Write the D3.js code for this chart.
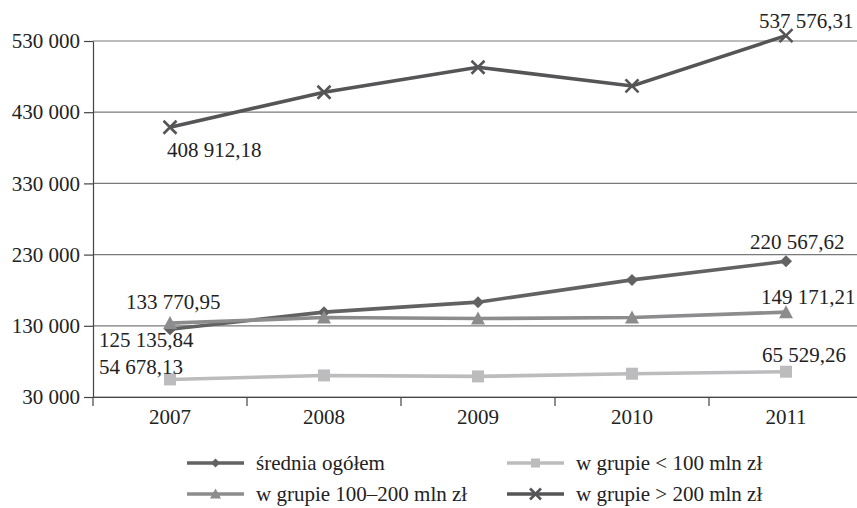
<!DOCTYPE html>
<html>
<head>
<meta charset="utf-8">
<script src="https://cdn.jsdelivr.net/npm/d3@7/dist/d3.min.js"></script>
<style>
  html, body { margin: 0; padding: 0; background: #fff; }
  svg { display: block; font-family: "Liberation Serif", "Times New Roman", "DejaVu Serif", serif; }
</style>
</head>
<body>
<svg id="chart" width="857" height="508"></svg>
<script>
// Chart data
const years = ['2007', '2008', '2009', '2010', '2011'];
const sredniaOgolem = [125135.84, 149200, 163200, 194500, 220567.62];
const grupaPonizej100 = [54678.13, 60300, 58900, 62700, 65529.26];
const grupa100do200 = [133770.95, 141600, 140200, 141600, 149171.21];
const grupaPowyzej200 = [408912.18, 458000, 493100, 466900, 537576.31];
const yTicks = [30000, 130000, 230000, 330000, 430000, 530000];

const FONT = '"Liberation Serif", "Times New Roman", "DejaVu Serif", serif';

// Series styling
const series = [
    { name: 'średnia ogółem', values: sredniaOgolem, color: '#626262', marker: 'diamond',
      labels: { first: [-71, 18], last: [-36, -12] } },
    { name: 'w grupie < 100 mln zł', values: grupaPonizej100, color: '#bcbcbe', marker: 'square',
      labels: { first: [-71, -5], last: [-24, -10] } },
    { name: 'w grupie 100–200 mln zł', values: grupa100do200, color: '#8c8c8e', marker: 'triangle',
      labels: { first: [-44, -14], last: [-25, -8] } },
    { name: 'w grupie > 200 mln zł', values: grupaPowyzej200, color: '#555557', marker: 'cross',
      labels: { first: [-3, 30], last: [-27, -8] } }
];

const fmt = v => {
    const s = v.toFixed(2).replace('.', ',');
    const [int, dec] = s.split(',');
    return int.replace(/\B(?=(\d{3})+(?!\d))/g, ' ') + ',' + dec;
};
const fmtTick = v => String(v).replace(/\B(?=(\d{3})+(?!\d))/g, ' ');

const svg = d3.select('#chart');
const plot = { left: 93, right: 863, top: 41, bottom: 397 };

const x = d3.scaleBand().domain(years).range([plot.left, plot.right]);
const y = d3.scaleLinear().domain([30000, 530000]).range([plot.bottom, plot.top]);
const cx = d => x(d) + x.bandwidth() / 2;

// Gridlines
svg.append('g')
    .selectAll('line')
    .data(yTicks)
    .join('line')
    .attr('x1', plot.left).attr('x2', plot.right)
    .attr('y1', d => y(d)).attr('y2', d => y(d))
    .attr('stroke', '#7a7a7a')
    .attr('stroke-width', 1.2);

// Y axis
const yAxis = svg.append('g')
    .attr('transform', `translate(${plot.left},0)`)
    .call(d3.axisLeft(y).tickValues(yTicks).tickSize(9).tickSizeOuter(0).tickFormat(fmtTick));
yAxis.attr('font-family', null);
yAxis.select('.domain').attr('stroke', '#444').attr('stroke-width', 1.2);
yAxis.selectAll('.tick line').attr('stroke', '#444').attr('stroke-width', 1.2);
yAxis.selectAll('text')
    .attr('x', -13)
    .attr('fill', '#222')
    .style('font-size', '21px')
    .style('font-family', FONT);

// X axis
const xAxis = svg.append('g')
    .attr('transform', `translate(0,${plot.bottom})`)
    .call(d3.axisBottom(x).tickSize(0).tickSizeOuter(0));
xAxis.attr('font-family', null);
xAxis.select('.domain').attr('stroke', '#444').attr('stroke-width', 1.2);
xAxis.selectAll('text')
    .attr('y', 12)
    .attr('fill', '#222')
    .style('font-size', '21px')
    .style('font-family', FONT);
// boundary ticks between categories
svg.append('g')
    .selectAll('line')
    .data(years)
    .join('line')
    .attr('x1', d => x(d)).attr('x2', d => x(d))
    .attr('y1', plot.bottom).attr('y2', plot.bottom + 9)
    .attr('stroke', '#444')
    .attr('stroke-width', 1.2);

// Marker drawing helper
function drawMarker(g, type, color, px, py, size) {
    const h = size / 2;
    if (type === 'diamond') {
        g.append('path')
            .attr('d', `M${px},${py - h}L${px + h},${py}L${px},${py + h}L${px - h},${py}Z`)
            .attr('fill', color);
    } else if (type === 'square') {
        g.append('rect')
            .attr('x', px - h).attr('y', py - h)
            .attr('width', size).attr('height', size)
            .attr('fill', color);
    } else if (type === 'triangle') {
        g.append('path')
            .attr('d', `M${px},${py - h - 1}L${px + h + 1},${py + h}L${px - h - 1},${py + h}Z`)
            .attr('fill', color);
    } else if (type === 'cross') {
        g.append('path')
            .attr('d', `M${px - h},${py - h}L${px + h},${py + h}M${px - h},${py + h}L${px + h},${py - h}`)
            .attr('stroke', color)
            .attr('stroke-width', 2.6)
            .attr('fill', 'none');
    }
}

const line = d3.line()
    .x((d, i) => cx(years[i]))
    .y(d => y(d));

// Series lines and markers
series.forEach(s => {
    const g = svg.append('g');
    g.append('path')
        .datum(s.values)
        .attr('d', line)
        .attr('fill', 'none')
        .attr('stroke', s.color)
        .attr('stroke-width', 3.6);
    s.values.forEach((v, i) => {
        drawMarker(g, s.marker, s.color, cx(years[i]), y(v), s.marker === 'cross' ? 13 : 12);
    });
});

// Data labels (first and last values)
series.forEach(s => {
    const last = s.values.length - 1;
    [['first', 0], ['last', last]].forEach(([key, i]) => {
        const [dx, dy] = s.labels[key];
        svg.append('text')
            .attr('x', cx(years[i]) + dx)
            .attr('y', y(s.values[i]) + dy)
            .attr('fill', '#222')
            .style('font-size', '21px')
            .style('font-family', FONT)
            .text(fmt(s.values[i]));
    });
});

// Legend
const legendPos = [
    { col: 187, row: 463 },
    { col: 507, row: 463 },
    { col: 187, row: 494 },
    { col: 507, row: 494 }
];
series.forEach((s, i) => {
    const p = legendPos[i];
    const g = svg.append('g');
    g.append('line')
        .attr('x1', p.col).attr('x2', p.col + 57)
        .attr('y1', p.row).attr('y2', p.row)
        .attr('stroke', s.color)
        .attr('stroke-width', 3.4);
    drawMarker(g, s.marker, s.color, p.col + 28.5, p.row, s.marker === 'cross' ? 11 : 9);
    g.append('text')
        .attr('x', p.col + 69)
        .attr('y', p.row + 7)
        .attr('fill', '#222')
        .style('font-size', '21px')
        .style('font-family', FONT)
        .text(s.name);
});
</script>
</body>
</html>
